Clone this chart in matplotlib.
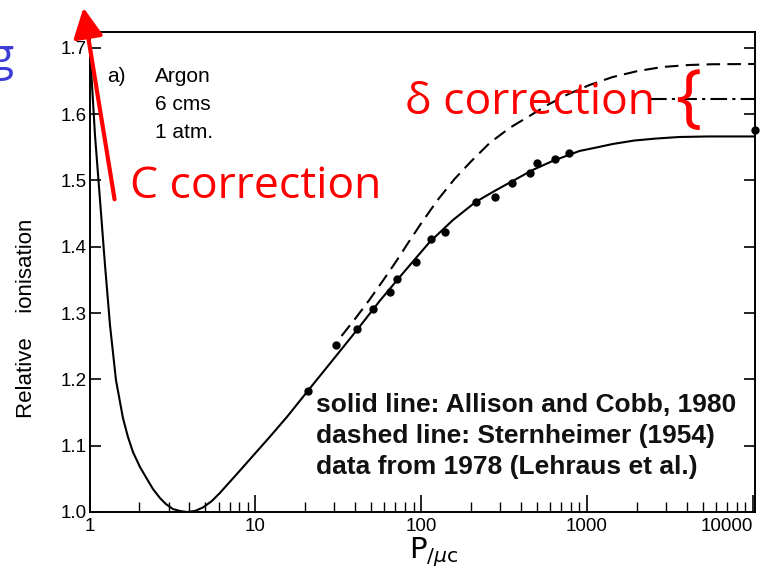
import matplotlib
matplotlib.use('Agg')
import matplotlib.pyplot as plt
from matplotlib.ticker import FixedLocator, FixedFormatter, LogLocator, NullFormatter

# Allison & Cobb relativistic rise curve (solid)
p_solid = [1.0, 1.031, 1.079, 1.157, 1.24, 1.329, 1.444, 1.591, 1.706, 1.828, 2.015,
           2.221, 2.413, 2.659, 2.889, 3.184, 3.51, 3.867, 4.32, 4.83, 5.47, 6.11, 6.83,
           7.74, 9.66, 12.2, 15.5, 20.7, 31.0, 41.0, 56.2, 74.2, 112.5, 155.5, 213, 277,
           356, 470, 620, 901, 1141, 1426, 1932, 2623, 3606, 5390, 10300]
ion_solid = [1.712, 1.652, 1.5686, 1.4706, 1.3725, 1.282, 1.199, 1.1418, 1.1131, 1.0905,
             1.0679, 1.0498, 1.0347, 1.0211, 1.012, 1.0045, 1.0015, 1.000, 1.0015, 1.0068,
             1.0166, 1.0287, 1.0422, 1.0573, 1.0845, 1.1131, 1.1433, 1.1825, 1.2368,
             1.2745, 1.3183, 1.3544, 1.4072, 1.4404, 1.4676, 1.4842, 1.4992, 1.5158,
             1.5294, 1.5445, 1.5498, 1.5550, 1.5603, 1.5633, 1.5656, 1.5664, 1.5664]

# Sternheimer 1954 (dashed)
p_dash = [33.1, 40.3, 48.9, 58.6, 70.9, 84.1, 100.3, 125.7, 159, 201, 259, 341, 450, 578,
          752, 1035, 1426, 2015, 2851, 4140, 5700, 10300]
ion_dash = [1.2655, 1.2926, 1.3205, 1.3484, 1.3786, 1.4072, 1.4359, 1.4706, 1.5023, 1.5294,
            1.5566, 1.5792, 1.5973, 1.6139, 1.629, 1.644, 1.656, 1.665, 1.6712, 1.6742,
            1.6753, 1.6757]

# intermediate plateau (dash-dot)
p_dashdot = [2400, 10300]
ion_dashdot = [1.623, 1.623]

# Lehraus et al. 1978 measurements
p_data = [20.7, 30.8, 41.0, 51.5, 64.6, 71.5, 93.5, 115, 138.6, 213, 277, 352, 455, 501,
          643, 774, 10300]
ion_data = [1.1825, 1.2519, 1.2756, 1.3062, 1.3323, 1.3514, 1.3775, 1.4118, 1.4228, 1.4671,
            1.4756, 1.4967, 1.5109, 1.5260, 1.5320, 1.5419, 1.5762]

x_ticks = [1, 10, 100, 1000, 10000]
x_ticklabels = ['1', '10', '100', '1000', '10000']
y_ticks = [1.0, 1.1, 1.2, 1.3, 1.4, 1.5, 1.6, 1.7]
y_ticklabels = ['1.0', '1.1', '1.2', '1.3', '1.4', '1.5', '1.6', '1.7']

note_lines = ['solid line: Allison and Cobb, 1980',
              'dashed line: Sternheimer (1954)',
              'data from 1978 (Lehraus et al.)']
gas_lines = ['Argon', '6 cms', '1 atm.']

W, H = 767, 579


def fx(px):
    return px / W


def fy(py):
    return 1 - py / H


fig = plt.figure(figsize=(W / 100, H / 100), dpi=100)
ax = fig.add_axes([fx(89.5), fy(512), (755 - 89.5) / W, (512 - 31.5) / H])

ax.plot(p_solid, ion_solid, color='black', lw=1.5, solid_joinstyle='round')
ax.plot(p_dash, ion_dash, color='black', lw=1.5, linestyle=(0, (6.5, 3.5)))
ax.plot(p_dashdot, ion_dashdot, color='black', lw=1.5, linestyle=(0, (8, 2.5, 1.5, 2.5)))
ax.plot(p_data, ion_data, 'o', color='black', ms=5, clip_on=False)

ax.set_xscale('log')
ax.set_xlim(1, 10300)
ax.set_ylim(1.0, 1.7247)

ax.xaxis.set_major_locator(FixedLocator(x_ticks))
ax.xaxis.set_major_formatter(FixedFormatter(x_ticklabels))
ax.xaxis.set_minor_locator(LogLocator(base=10, subs=range(2, 10)))
ax.xaxis.set_minor_formatter(NullFormatter())
ax.yaxis.set_major_locator(FixedLocator(y_ticks))
ax.yaxis.set_major_formatter(FixedFormatter(y_ticklabels))

ax.tick_params(axis='x', which='major', direction='in', length=12, width=1.2, pad=4,
               top=False)
ax.tick_params(axis='x', which='minor', direction='in', length=7, width=1.0, top=False)
ax.tick_params(axis='y', which='major', direction='in', length=8, width=1.2, pad=2,
               left=True, right=True)
for lab in ax.get_xticklabels() + ax.get_yticklabels():
    lab.set_family('Liberation Sans')
    lab.set_fontsize(13.5)
ax.get_xticklabels()[-1].set_horizontalalignment('right')

for s in ax.spines.values():
    s.set_linewidth(1.4)

# axis titles
fig.text(fx(27), fy(318), 'Relative    ionisation', rotation=90, ha='center', va='center',
         fontsize=16, family='Liberation Sans')
fig.text(fx(434), fy(558), r'$\mathsf{P}_{/\mu\mathsf{c}}$', ha='center', va='baseline',
         fontsize=21)

# panel label
fig.text(fx(107), fy(82), 'a)', fontsize=15, family='Liberation Sans', va='baseline')
for i, line in enumerate(gas_lines):
    fig.text(fx(155), fy(82 + 28 * i), line, fontsize=15, family='Liberation Sans',
             va='baseline')

for i, line in enumerate(note_lines):
    fig.text(fx(316), fy(412 + 31 * i), line, fontsize=19, fontweight='bold',
             family='Liberation Sans', va='baseline', color='#111111')

# annotations in red
fig.text(fx(130), fy(198), 'C correction', fontsize=32, color='red', family='Open Sans',
         va='baseline')
fig.text(fx(405), fy(114), '\u03b4 correction', fontsize=32, color='red', family='Open Sans',
         va='baseline')
fig.text(fx(688), fy(101), '{', fontsize=50, color='red', family='Open Sans',
         ha='center', va='center')
ax.annotate('', xy=(83, H - 5), xytext=(115, H - 202), xycoords='figure pixels',
            textcoords='figure pixels', annotation_clip=False,
            arrowprops=dict(arrowstyle='-|>,head_length=0.9,head_width=0.45',
                            color='red', lw=3, mutation_scale=20))

fig.text(fx(13), fy(70), 'g', fontsize=32, color='#3c3cd6', family='Open Sans',
         ha='right', va='baseline')

fig.savefig('out.png', dpi=100)
